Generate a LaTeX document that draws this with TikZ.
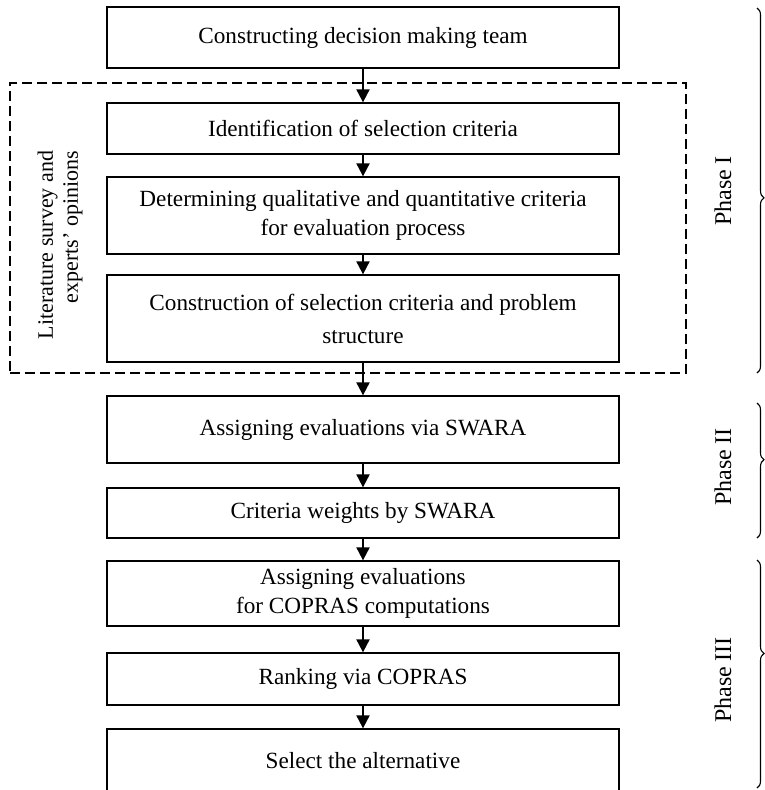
\documentclass[tikz,border=0pt]{standalone}
\usepackage{fontspec}
\setmainfont{Liberation Serif}
\usetikzlibrary{arrows.meta,decorations.pathreplacing}

\tikzset{
stepbox/.style={draw, line width=1.3pt, minimum width=512pt, inner sep=0pt,
  align=center, font=\fontsize{23.2}{28.5}\selectfont},
sidetext/.style={rotate=90, inner sep=0pt, font=\fontsize{22}{25}\selectfont},
phasebrace/.style={decorate, line width=1.1pt,
  decoration={brace, amplitude=7pt, aspect=#1}}
}

\newcommand{\drawstep}[2]{
\draw[line width=2pt, -{Triangle[width=13pt,length=13pt]}]
(#1) -- (#2);
}

\begin{document}
\begin{tikzpicture}[x=1pt, y=1pt]
\useasboundingbox (0,0) rectangle (765,-790);

\node[draw, dashed, dash pattern=on 10pt off 5pt, line width=1.5pt,
  minimum width=676pt, minimum height=290pt] (group) at (348,-228) {};
\node[sidetext, align=right] (survey) at (60,-245) {Literature survey and\\experts’ opinions};

\node[stepbox, minimum height=61pt] (team) at (363,-37.5) {Constructing decision making team};
\node[stepbox, minimum height=51pt] (ident) at (363,-128.5) {Identification of selection criteria};
\node[stepbox, minimum height=77pt] (determ) at (363,-215.5)
  {Determining qualitative and quantitative criteria\\for evaluation process};
\node[stepbox, minimum height=87pt] (struct) at (363,-318.5)
  {Construction of selection criteria and problem\\[4.5pt]structure};
\node[stepbox, minimum height=67pt] (swara) at (363,-429.5) {Assigning evaluations via SWARA};
\node[stepbox, minimum height=50pt] (weights) at (363,-513) {Criteria weights by SWARA};
\node[stepbox, minimum height=65pt] (copras) at (363,-593.5)
  {Assigning evaluations\\for COPRAS computations};
\node[stepbox, minimum height=52pt] (rank) at (363,-679) {Ranking via COPRAS};
\node[stepbox, minimum height=63pt] (select) at (363,-760.5) {Select the alternative};

\drawstep{team}{ident}
\drawstep{ident}{determ}
\drawstep{determ}{struct}
\drawstep{struct}{swara}
\drawstep{swara}{weights}
\drawstep{weights}{copras}
\drawstep{copras}{rank}
\drawstep{rank}{select}

\coordinate (p1top) at (757,-8);
\coordinate (p1bot) at (757,-373);
\coordinate (p2top) at (757,-403);
\coordinate (p2bot) at (757,-538);
\coordinate (p3top) at (757,-560);
\coordinate (p3bot) at (757,-788);

\draw[phasebrace=0.52] (p1top) -- (p1bot);
\draw[phasebrace=0.42] (p2top) -- (p2bot);
\draw[phasebrace=0.41] (p3top) -- (p3bot);

\node[sidetext, font=\fontsize{24}{28}\selectfont] (phase1) at (723,-191) {Phase I};
\node[sidetext, font=\fontsize{24}{28}\selectfont] (phase2) at (723,-467) {Phase II};
\node[sidetext, font=\fontsize{24}{28}\selectfont] (phase3) at (723,-680) {Phase III};

\end{tikzpicture}
\end{document}
